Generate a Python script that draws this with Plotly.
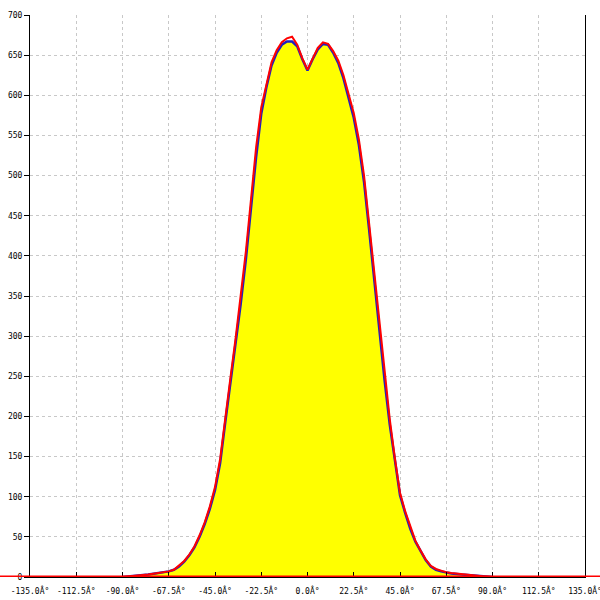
import plotly.graph_objects as go

angles = [-90, -87.5, -85, -82.5, -80, -77.5, -75, -72.5, -70, -67.5, -65, -62.5, -60, -57.5,
          -55, -52.5, -50, -47.5, -45, -42.5, -40, -37.5, -35, -32.5, -30, -27.5, -25, -22.5,
          -20, -17.5, -15, -12.5, -10, -7.5, -5, -2.5, 0, 2.5, 5, 7.5, 10, 12.5, 15, 17.5,
          20, 22.5, 25, 27.5, 30, 32.5, 35, 37.5, 40, 42.5, 45, 47.5, 50, 52.5, 55, 57.5,
          60, 62.5, 65, 67.5, 70, 75, 80, 85, 90]

red_values = [0, 0.5, 1, 1.5, 2, 3, 4, 5, 6, 7, 9, 14, 20, 28,
              38, 52, 68, 88, 112, 147, 200, 248, 297, 350, 405, 470, 535, 585,
              615, 641, 656, 666, 671, 673, 663, 646, 632, 646, 659, 666, 664, 655, 643, 625,
              603, 578, 545, 500, 440, 378, 312, 252, 197, 148, 105, 82, 62, 45, 33, 22,
              14, 10, 8, 6, 5, 3.5, 2, 1, 0]

blue_values = [0, 0.5, 1, 1.5, 2, 3, 4, 5, 6, 7, 9, 13, 19, 27,
               37, 50, 66, 85, 108, 142, 193, 240, 288, 340, 395, 460, 523, 577,
               610, 637, 653, 663, 667, 667, 661, 645, 631, 645, 657, 664, 663, 653, 640, 621,
               598, 572, 538, 492, 432, 370, 304, 245, 190, 143, 102, 80, 60, 44, 32, 21,
               13, 9, 7, 5.5, 4.5, 3, 2, 1, 0]

tick_vals = [-135, -112.5, -90, -67.5, -45, -22.5, 0, 22.5, 45, 67.5, 90, 112.5, 135]
tick_text = [f"{v:.1f}Â°" for v in tick_vals]
y_ticks = list(range(0, 701, 50))

font = dict(family="DejaVu Sans Mono", size=8, color="black")

fig = go.Figure()
fig.add_trace(go.Scatter(x=angles, y=blue_values, mode="lines",
                         line=dict(color="#2020c0", width=2.5),
                         fill="tozeroy", fillcolor="#ffff00", hoverinfo="skip"))
fig.add_trace(go.Scatter(x=angles, y=red_values, mode="lines",
                         line=dict(color="#ff0000", width=2), hoverinfo="skip"))

fig.add_shape(type="line", xref="paper", yref="y", x0=-0.06, x1=1.03, y0=0, y1=0,
              line=dict(color="#ff0000", width=3), layer="above")

fig.update_layout(
    width=600, height=600,
    margin=dict(l=30, r=15, t=15, b=23, autoexpand=False),
    paper_bgcolor="white", plot_bgcolor="white",
    showlegend=False,
    font=font,
    xaxis=dict(range=[-135, 135], tickmode="array", tickvals=tick_vals, ticktext=tick_text,
               ticks="inside", ticklen=5, tickcolor="black", tickwidth=1,
               ticklabelstandoff=6, ticklabeloverflow="allow",
               showline=True, linecolor="black", linewidth=1,
               showgrid=True, gridcolor="#c8c8c8", griddash="3px,3px", gridwidth=1,
               zeroline=False, tickfont=font, automargin=False, fixedrange=True),
    yaxis=dict(range=[0, 700], tickmode="array", tickvals=y_ticks,
               ticks="outside", ticklen=5, tickcolor="black", tickwidth=1,
               showline=True, linecolor="black", linewidth=1, mirror=True,
               showgrid=True, gridcolor="#c8c8c8", griddash="3px,3px", gridwidth=1,
               zeroline=False, tickfont=font, automargin=False, fixedrange=True),
)

fig.write_html("out.html", config={"displayModeBar": False},
               post_script="document.body.style.margin='0px';document.body.style.overflow='hidden';")
